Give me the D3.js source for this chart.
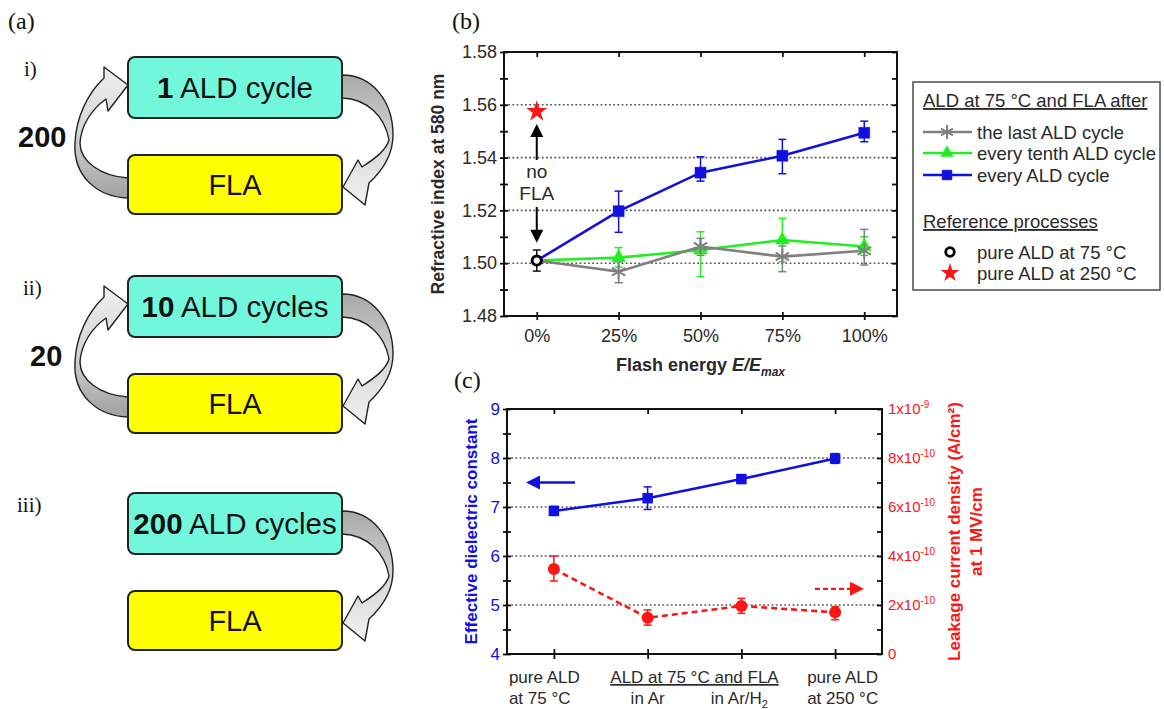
<!DOCTYPE html>
<html><head><meta charset="utf-8">
<script src="https://cdn.jsdelivr.net/npm/d3@7"></script>
<style>body{margin:0;background:#fff}</style>
</head><body>
<svg id="fig" width="1164" height="709"></svg>
<script>
// ---------------- DATA ----------------
// panel (b)
const energyLevels = [0, 25, 50, 75, 100];
const energyTickLabels = ["0%", "25%", "50%", "75%", "100%"];
const refIndexTicks = [1.48, 1.50, 1.52, 1.54, 1.56, 1.58];
const lastCycle      = [1.501, 1.4968, 1.5063, 1.5025, 1.5047];
const lastCycleLo    = [1.4985, 1.4926, 1.5030, 1.4968, 1.4993];
const lastCycleHi    = [1.5035, 1.5005, 1.5094, 1.5065, 1.5128];
const tenthCycle     = [1.501, 1.5021, 1.5050, 1.5088, 1.5063];
const tenthCycleLo   = [1.4985, 1.4985, 1.4949, 1.5005, 1.5030];
const tenthCycleHi   = [1.5035, 1.5059, 1.5119, 1.5170, 1.5100];
const everyCycle     = [1.501, 1.5197, 1.5343, 1.5407, 1.5494];
const everyCycleLo   = [1.4985, 1.5117, 1.5311, 1.5339, 1.5460];
const everyCycleHi   = [1.5035, 1.5273, 1.5403, 1.5469, 1.5538];
const pureALD75      = [1.501];   // at E = 0 %
const pureALD75Lo    = [1.497];
const pureALD75Hi    = [1.505];
const pureALD250     = [1.5575];  // at E = 0 %
// panel (c)
const processes      = ["pure ALD at 75 °C", "FLA in Ar", "FLA in Ar/H2", "pure ALD at 250 °C"];
const dielectric     = [6.92, 7.18, 7.57, 7.99];
const dielectricLo   = [6.83, 6.95, 7.50, 7.89];
const dielectricHi   = [7.01, 7.41, 7.65, 8.09];
const leakage        = [3.47e-10, 1.48e-10, 1.96e-10, 1.70e-10];
const leakageLo      = [2.98e-10, 1.18e-10, 1.66e-10, 1.40e-10];
const leakageHi      = [4.00e-10, 1.80e-10, 2.27e-10, 1.93e-10];
const dielectricTicks = [4, 5, 6, 7, 8, 9];
const leakageTicks   = [0, 2e-10, 4e-10, 6e-10, 8e-10, 1e-9];
const leakageTickLabels = [["0",""], ["2x10","-10"], ["4x10","-10"], ["6x10","-10"], ["8x10","-10"], ["1x10","-9"]];
// panel (a)
const schemes = [
  {label: "i)",   count: "200", bold: "1",   rest: " ALD cycle",  loop: true},
  {label: "ii)",  count: "20",  bold: "10",  rest: " ALD cycles", loop: true},
  {label: "iii)", count: "",    bold: "200", rest: " ALD cycles", loop: false}
];

// ---------------- SETUP ----------------
const svg = d3.select("#fig");
const SANS = "Liberation Sans, Arial, Helvetica, sans-serif";
const SERIF = "Liberation Serif, Times New Roman, serif";
const BLUE = "#1010e0", GREEN = "#22ee22", GRAY = "#808080", RED = "#ff1414";
const TXT = "#2a2a2a";

const defs = svg.append("defs");
const gradR = defs.append("linearGradient").attr("id", "ribR").attr("x1", "0").attr("y1", "0").attr("x2", "0").attr("y2", "1");
gradR.append("stop").attr("offset", "0%").attr("stop-color", "#a8a8a8");
gradR.append("stop").attr("offset", "55%").attr("stop-color", "#d8d8d8");
gradR.append("stop").attr("offset", "100%").attr("stop-color", "#f2f2f2");
const gradL = defs.append("linearGradient").attr("id", "ribL").attr("x1", "0").attr("y1", "1").attr("x2", "0").attr("y2", "0");
gradL.append("stop").attr("offset", "0%").attr("stop-color", "#a0a0a0");
gradL.append("stop").attr("offset", "50%").attr("stop-color", "#d4d4d4");
gradL.append("stop").attr("offset", "100%").attr("stop-color", "#f0f0f0");

// ---------------- PANEL (a) ----------------
const gA = svg.append("g");
gA.append("text").attr("x", 8).attr("y", 29).attr("font-family", SERIF).attr("font-size", 24).attr("fill", "#111").text("(a)");
const schemeTops = [57, 276, 493];
const labelX = [24, 23, 17];
schemes.forEach((s, i) => {
  const g = gA.append("g").attr("transform", `translate(0,${schemeTops[i]})`);
  g.append("text").attr("x", labelX[i]).attr("y", 19).attr("font-family", SERIF).attr("font-size", 21).attr("fill", "#111").text(s.label);
  // right arrow (cyan -> FLA)
  g.append("path")
    .attr("d", "M342,18 C373,18 393,45 393,78 C393,98 382,114 369,126 L365,148 L343,130 L358,103 L362,110 C376,101 386,93 389,83 C385,60 368,42 342,41 Z")
    .attr("fill", "url(#ribR)").attr("stroke", "#222").attr("stroke-width", 1.4).attr("stroke-linejoin", "round");
  if (s.loop) {
    g.append("path")
      .attr("d", "M128,141 C96,140 73,118 75,86 C76,60 88,36 104,21 L104,10 L128,28 L108,54 L106,42 C92,52 81,68 80,86 C80,104 100,119 128,121 Z")
      .attr("fill", "url(#ribL)").attr("stroke", "#222").attr("stroke-width", 1.4).attr("stroke-linejoin", "round");
    g.append("text").attr("x", s.count.length === 3 ? 18 : 30).attr("y", 90).attr("font-family", SANS)
      .attr("font-weight", "bold").attr("font-size", 29).attr("fill", "#111").text(s.count);
  }
  g.append("rect").attr("x", 128).attr("y", 0).attr("width", 214).attr("height", 61).attr("rx", 7)
    .attr("fill", "#72f7dc").attr("stroke", "#222").attr("stroke-width", 2);
  g.append("rect").attr("x", 128).attr("y", 98).attr("width", 214).attr("height", 59).attr("rx", 7)
    .attr("fill", "#ffff00").attr("stroke", "#222").attr("stroke-width", 2);
  const t = g.append("text").attr("x", 235).attr("y", 41).attr("text-anchor", "middle")
    .attr("font-family", SANS).attr("font-size", 29.5).attr("fill", "#111");
  t.append("tspan").attr("font-weight", "bold").text(s.bold);
  t.append("tspan").text(s.rest);
  g.append("text").attr("x", 235).attr("y", 138).attr("text-anchor", "middle")
    .attr("font-family", SANS).attr("font-size", 29).attr("fill", "#111").text("FLA");
});

// ---------------- PANEL (b) ----------------
const gB = svg.append("g");
const xB = d3.scaleLinear().domain([-10, 110]).range([504, 897]);
const yB = d3.scaleLinear().domain([1.48, 1.58]).range([316, 52]);
gB.append("text").attr("x", 452).attr("y", 29).attr("font-family", SERIF).attr("font-size", 24).attr("fill", "#111").text("(b)");

// grid
gB.selectAll(".gridB").data(refIndexTicks.slice(1, 5)).join("line")
  .attr("x1", xB.range()[0]).attr("x2", xB.range()[1])
  .attr("y1", d => yB(d)).attr("y2", d => yB(d))
  .attr("stroke", "#555").attr("stroke-width", 1.6).attr("stroke-dasharray", "1.8,2.4");

const minorB = d3.range(1.49, 1.58, 0.02);
function styleAxis(g, color, size) {
  g.select(".domain").remove();
  g.selectAll(".tick line").attr("stroke", "#111").attr("stroke-width", 1.8);
  g.selectAll(".tick text").attr("font-family", SANS).attr("font-size", size || 18).attr("fill", color || TXT);
}
// left axis (crossing ticks)
gB.append("g").attr("transform", `translate(${xB.range()[0] + 4},0)`)
  .call(d3.axisLeft(yB).tickValues(refIndexTicks).tickFormat(d3.format(".2f")).tickSize(8).tickPadding(3))
  .call(g => styleAxis(g));
gB.append("g").attr("transform", `translate(${xB.range()[0] + 4},0)`)
  .call(d3.axisLeft(yB).tickValues(minorB).tickFormat("").tickSize(8))
  .call(g => styleAxis(g));
// right axis (inward ticks)
gB.append("g").attr("transform", `translate(${xB.range()[1]},0)`)
  .call(d3.axisLeft(yB).tickValues(refIndexTicks.concat(minorB)).tickFormat("").tickSize(5))
  .call(g => styleAxis(g));
// top axis
gB.append("g").attr("transform", `translate(0,${yB.range()[1]})`)
  .call(d3.axisBottom(xB).tickValues(energyLevels).tickFormat("").tickSize(5))
  .call(g => styleAxis(g));
// bottom axis
gB.append("g").attr("transform", `translate(0,${yB.range()[0] - 4})`)
  .call(d3.axisBottom(xB).tickValues(energyLevels).tickFormat((d, i) => energyTickLabels[i]).tickSize(8).tickPadding(9))
  .call(g => styleAxis(g));
// frame
gB.append("rect").attr("x", xB.range()[0]).attr("y", yB.range()[1])
  .attr("width", xB.range()[1] - xB.range()[0]).attr("height", yB.range()[0] - yB.range()[1])
  .attr("fill", "none").attr("stroke", "#111").attr("stroke-width", 2);

// axis titles
gB.append("text").attr("transform", `translate(438,${(yB.range()[0] + yB.range()[1]) / 2}) rotate(-90)`)
  .attr("text-anchor", "middle").attr("dy", "0.35em").attr("font-family", SANS).attr("font-weight", "bold")
  .attr("font-size", 17.5).attr("fill", TXT).text("Refractive index at 580 nm");
const xt = gB.append("text").attr("x", (xB.range()[0] + xB.range()[1]) / 2).attr("y", 371).attr("text-anchor", "middle")
  .attr("font-family", SANS).attr("font-weight", "bold").attr("font-size", 18).attr("fill", TXT);
xt.append("tspan").text("Flash energy ");
xt.append("tspan").attr("font-style", "italic").text("E/E");
xt.append("tspan").attr("font-style", "italic").attr("font-size", 12).attr("dy", 5).text("max");

// series
const seriesB = [
  {vals: tenthCycle, lo: tenthCycleLo, hi: tenthCycleHi, color: GREEN, sym: d3.symbolTriangle, size: 85, fill: GREEN},
  {vals: lastCycle, lo: lastCycleLo, hi: lastCycleHi, color: GRAY, sym: d3.symbolAsterisk, size: 170, fill: "none"},
  {vals: everyCycle, lo: everyCycleLo, hi: everyCycleHi, color: BLUE, sym: d3.symbolSquare, size: 121, fill: BLUE}
];
function errBars(g, xs, lo, hi, color, sx, sy, cap) {
  const eg = g.append("g").attr("stroke", color).attr("stroke-width", 1.5);
  eg.selectAll("line.v").data(xs).join("line")
    .attr("x1", (d) => sx(d)).attr("x2", (d) => sx(d))
    .attr("y1", (d, i) => sy(lo[i])).attr("y2", (d, i) => sy(hi[i]));
  eg.selectAll("line.t").data(xs).join("line")
    .attr("x1", d => sx(d) - cap).attr("x2", d => sx(d) + cap)
    .attr("y1", (d, i) => sy(hi[i])).attr("y2", (d, i) => sy(hi[i]));
  eg.selectAll("line.b").data(xs).join("line")
    .attr("x1", d => sx(d) - cap).attr("x2", d => sx(d) + cap)
    .attr("y1", (d, i) => sy(lo[i])).attr("y2", (d, i) => sy(lo[i]));
}
seriesB.forEach(s => {
  errBars(gB, energyLevels.slice(1), s.lo.slice(1), s.hi.slice(1), s.color, xB, yB, 4);
});
seriesB.forEach(s => {
  gB.append("path").datum(s.vals)
    .attr("d", d3.line().x((d, i) => xB(energyLevels[i])).y(d => yB(d)))
    .attr("fill", "none").attr("stroke", s.color).attr("stroke-width", 2.6);
});
seriesB.forEach(s => {
  gB.selectAll(null).data(s.vals.slice(1)).join("path")
    .attr("transform", (d, i) => `translate(${xB(energyLevels[i + 1])},${yB(d)})`)
    .attr("d", d3.symbol().type(s.sym).size(s.size))
    .attr("fill", s.fill).attr("stroke", s.color).attr("stroke-width", s.fill === "none" ? 2 : 0.5);
});
// reference points at 0 %
errBars(gB, [0], pureALD75Lo, pureALD75Hi, "#111", xB, yB, 4);
gB.selectAll(null).data(pureALD75).join("circle")
  .attr("cx", xB(0)).attr("cy", d => yB(d)).attr("r", 4.6)
  .attr("fill", "#fff").attr("stroke", "#000").attr("stroke-width", 3);
gB.selectAll(null).data(pureALD250).join("path")
  .attr("transform", d => `translate(${xB(0)},${yB(d)})`)
  .attr("d", d3.symbol().type(d3.symbolStar).size(140)).attr("fill", RED);

// "no FLA" annotation
function arrowV(g, x, y1, y2, color) { // from y1 to tip y2
  const dir = y2 > y1 ? 1 : -1;
  g.append("line").attr("x1", x).attr("x2", x).attr("y1", y1).attr("y2", y2 - dir * 10)
    .attr("stroke", color).attr("stroke-width", 2);
  g.append("path").attr("d", `M${x - 6.5},${y2 - dir * 13} L${x + 6.5},${y2 - dir * 13} L${x},${y2} Z`).attr("fill", color);
}
arrowV(gB, xB(0), yB(1.5391), yB(1.5527), "#000");
arrowV(gB, xB(0), yB(1.5213), yB(1.5077), "#000");
gB.append("text").attr("x", xB(0)).attr("y", yB(1.5323)).attr("text-anchor", "middle")
  .attr("font-family", SANS).attr("font-size", 19).attr("fill", TXT).text("no");
gB.append("text").attr("x", xB(0)).attr("y", yB(1.5240)).attr("text-anchor", "middle")
  .attr("font-family", SANS).attr("font-size", 19).attr("fill", TXT).text("FLA");

// legend
const lg = svg.append("g");
lg.append("rect").attr("x", 913).attr("y", 82).attr("width", 247).attr("height", 208)
  .attr("fill", "#fff").attr("stroke", "#555").attr("stroke-width", 1.6);
const legFont = {family: SANS, size: 18.5};
function legText(x, y, str, underline) {
  lg.append("text").attr("x", x).attr("y", y).attr("font-family", legFont.family).attr("font-size", legFont.size)
    .attr("fill", TXT).attr("text-decoration", underline ? "underline" : null).text(str);
}
legText(923, 107, "ALD at 75 °C and FLA after", true);
const legRows = [
  {y: 132, s: seriesB[1], label: "the last ALD cycle"},
  {y: 153, s: seriesB[0], label: "every tenth ALD cycle"},
  {y: 175, s: seriesB[2], label: "every ALD cycle"}
];
legRows.forEach(r => {
  lg.append("line").attr("x1", 923).attr("x2", 972).attr("y1", r.y).attr("y2", r.y)
    .attr("stroke", r.s.color).attr("stroke-width", 2.4);
  lg.append("path").attr("transform", `translate(947,${r.y})`)
    .attr("d", d3.symbol().type(r.s.sym).size(r.s.size * 0.8))
    .attr("fill", r.s.fill).attr("stroke", r.s.color).attr("stroke-width", r.s.fill === "none" ? 2 : 0.5);
  legText(977, r.y + 6.5, r.label);
});
legText(923, 228, "Reference processes", true);
lg.append("circle").attr("cx", 950).attr("cy", 252).attr("r", 4.3).attr("fill", "#fff").attr("stroke", "#000").attr("stroke-width", 2.8);
legText(977, 258.5, "pure ALD at 75 °C");
lg.append("path").attr("transform", "translate(950,273)").attr("d", d3.symbol().type(d3.symbolStar).size(110)).attr("fill", RED);
legText(977, 279.5, "pure ALD at 250 °C");

// ---------------- PANEL (c) ----------------
const gC = svg.append("g");
const xC = d3.scaleLinear().domain([-0.5, 3.5]).range([507, 882]);
const yC = d3.scaleLinear().domain([4, 9]).range([654, 409]);
const yR = d3.scaleLinear().domain([0, 1e-9]).range([654, 409]);
gC.append("text").attr("x", 454).attr("y", 388).attr("font-family", SERIF).attr("font-size", 24).attr("fill", "#111").text("(c)");
const idx = d3.range(processes.length);

gC.selectAll(".gridC").data(dielectricTicks.slice(1, 5)).join("line")
  .attr("x1", xC.range()[0]).attr("x2", xC.range()[1])
  .attr("y1", d => yC(d)).attr("y2", d => yC(d))
  .attr("stroke", "#555").attr("stroke-width", 1.6).attr("stroke-dasharray", "1.8,2.4");
const minorC = d3.range(4.5, 9, 1);
gC.append("g").attr("transform", `translate(${xC.range()[0] + 4},0)`)
  .call(d3.axisLeft(yC).tickValues(dielectricTicks).tickFormat(d3.format("d")).tickSize(8).tickPadding(3))
  .call(g => styleAxis(g, BLUE, 17));
gC.append("g").attr("transform", `translate(${xC.range()[0] + 4},0)`)
  .call(d3.axisLeft(yC).tickValues(minorC).tickFormat("").tickSize(8))
  .call(g => styleAxis(g));
gC.append("g").attr("transform", `translate(${xC.range()[1]},0)`)
  .call(d3.axisLeft(yR).tickValues(d3.range(0, 1.01e-9, 1e-10)).tickFormat("").tickSize(5))
  .call(g => styleAxis(g));
const rAx = gC.append("g").attr("transform", `translate(${xC.range()[1]},0)`)
  .call(d3.axisRight(yR).tickValues(leakageTicks).tickSize(0).tickPadding(6))
  .call(g => styleAxis(g, RED, 15));
rAx.selectAll(".tick text").each(function (d, i) {
  const t = d3.select(this);
  t.text(null);
  t.append("tspan").text(leakageTickLabels[i][0]);
  if (leakageTickLabels[i][1]) t.append("tspan").attr("font-size", 10).attr("dy", -6).text(leakageTickLabels[i][1]);
});
gC.append("g").attr("transform", `translate(0,${yC.range()[1]})`)
  .call(d3.axisBottom(xC).tickValues(idx).tickFormat("").tickSize(5))
  .call(g => styleAxis(g));
gC.append("g").attr("transform", `translate(0,${yC.range()[0] - 5})`)
  .call(d3.axisBottom(xC).tickValues(idx).tickFormat("").tickSize(10))
  .call(g => styleAxis(g));
gC.append("rect").attr("x", xC.range()[0]).attr("y", yC.range()[1])
  .attr("width", xC.range()[1] - xC.range()[0]).attr("height", yC.range()[0] - yC.range()[1])
  .attr("fill", "none").attr("stroke", "#111").attr("stroke-width", 2);

// category labels
function catText(x, y, str, anchor, underline) {
  return gC.append("text").attr("x", x).attr("y", y).attr("text-anchor", anchor)
    .attr("font-family", SANS).attr("font-size", 17).attr("fill", TXT)
    .attr("text-decoration", underline ? "underline" : null).text(str);
}
catText(xC(0) - 45, 683, "pure ALD", "start");
catText(xC(0) - 45, 704, "at 75 °C", "start");
catText((xC(1) + xC(2)) / 2, 683, "ALD at 75 °C and FLA", "middle", true);
catText(xC(1), 704, "in Ar", "middle");
const arh = catText(xC(2) - 2, 704, "in Ar/H", "middle");
arh.append("tspan").attr("font-size", 11).attr("dy", 4).text("2");
catText(xC(3) - 28, 683, "pure ALD", "start");
catText(xC(3) - 28, 704, "at 250 °C", "start");

// axis titles
gC.append("text").attr("transform", `translate(471,${(yC.range()[0] + yC.range()[1]) / 2}) rotate(-90)`)
  .attr("text-anchor", "middle").attr("dy", "0.35em").attr("font-family", SANS).attr("font-weight", "bold")
  .attr("font-size", 17).attr("fill", BLUE).text("Effective dielectric constant");
gC.append("text").attr("transform", `translate(954,${(yC.range()[0] + yC.range()[1]) / 2}) rotate(-90)`)
  .attr("text-anchor", "middle").attr("dy", "0.35em").attr("font-family", SANS).attr("font-weight", "bold")
  .attr("font-size", 17).attr("fill", RED).text("Leakage current density (A/cm²)");
gC.append("text").attr("transform", `translate(976,${(yC.range()[0] + yC.range()[1]) / 2}) rotate(-90)`)
  .attr("text-anchor", "middle").attr("dy", "0.35em").attr("font-family", SANS).attr("font-weight", "bold")
  .attr("font-size", 17).attr("fill", RED).text("at 1 MV/cm");

// series (c)
errBars(gC, idx, dielectricLo, dielectricHi, BLUE, xC, yC, 4);
errBars(gC, idx, leakageLo, leakageHi, RED, xC, yR, 4);
gC.append("path").datum(dielectric)
  .attr("d", d3.line().x((d, i) => xC(i)).y(d => yC(d)))
  .attr("fill", "none").attr("stroke", BLUE).attr("stroke-width", 2.6);
gC.append("path").datum(leakage)
  .attr("d", d3.line().x((d, i) => xC(i)).y(d => yR(d)))
  .attr("fill", "none").attr("stroke", RED).attr("stroke-width", 2.6).attr("stroke-dasharray", "6,4");
gC.selectAll(null).data(dielectric).join("path")
  .attr("transform", (d, i) => `translate(${xC(i)},${yC(d)})`)
  .attr("d", d3.symbol().type(d3.symbolSquare).size(110)).attr("fill", BLUE);
gC.selectAll(null).data(leakage).join("circle")
  .attr("cx", (d, i) => xC(i)).attr("cy", d => yR(d)).attr("r", 6).attr("fill", RED);

// direction arrows (c)
function arrowH(g, x1, x2, y, color, dashed) { // tip at x2
  const dir = x2 > x1 ? 1 : -1;
  g.append("line").attr("x1", x1).attr("x2", x2 - dir * 10).attr("y1", y).attr("y2", y)
    .attr("stroke", color).attr("stroke-width", 2.4).attr("stroke-dasharray", dashed ? "5,3" : null);
  g.append("path").attr("d", `M${x2 - dir * 14},${y - 7} L${x2 - dir * 14},${y + 7} L${x2},${y} Z`).attr("fill", color);
}
arrowH(gC, 575, 526, yC(7.5), BLUE, false);
arrowH(gC, 815, 864, yC(5.33), RED, true);
</script>
</body></html>
